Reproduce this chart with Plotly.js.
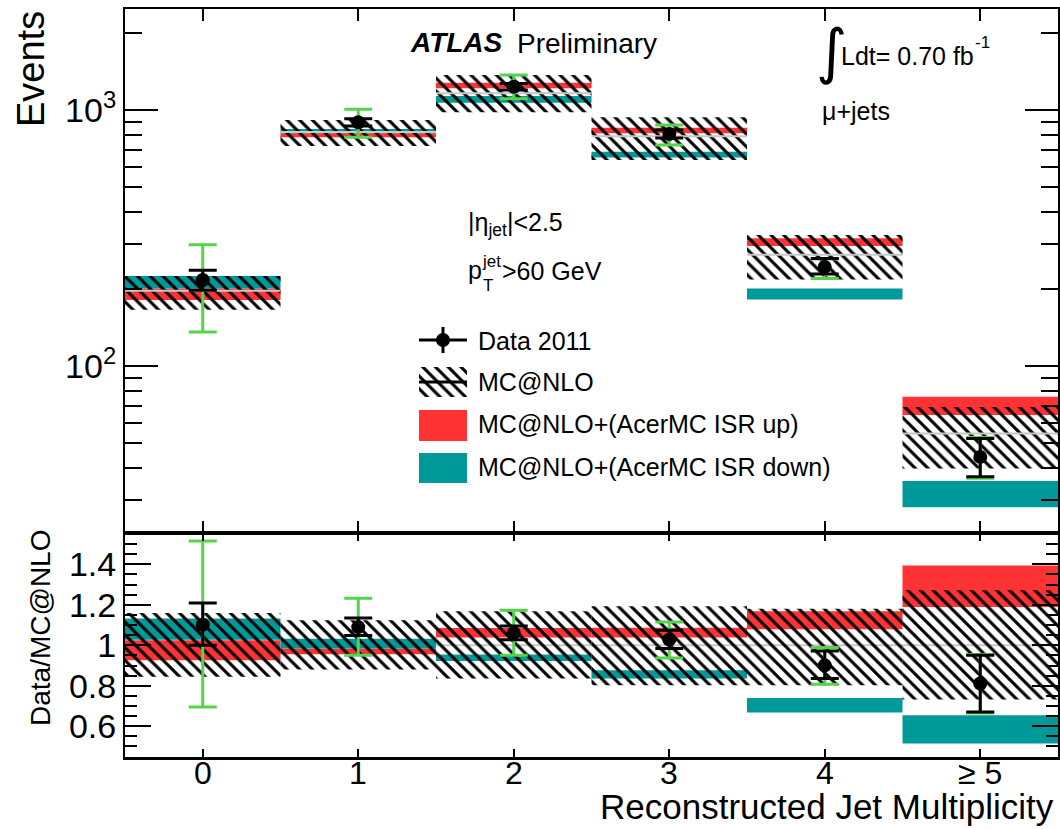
<!DOCTYPE html>
<html>
<head>
<meta charset="utf-8">
<script src="https://cdn.plot.ly/plotly-3.0.1.min.js"></script>
<style>html,body{margin:0;padding:0;background:#fff;}#chart{width:1060px;height:829px;}</style>
</head>
<body>
<div id="chart"></div>
<script>
// ---------------- data ----------------
const jetBins = [0, 1, 2, 3, 4, 5];
const binLabels = ["0", "1", "2", "3", "4", "\u2265 5"];

// upper panel: events
const dataEvents  = [217, 895, 1233, 806, 244, 44.2];
const dataStatLo  = [198, 866, 1198, 778, 229, 37.0];
const dataStatHi  = [237, 925, 1268, 835, 263, 52.2];
const dataTotLo   = [136, 782, 1106, 730, 220, 36.5];
const dataTotHi   = [298, 1006, 1370, 874, 262, 52.6];
const mcnloCentral = [197, 821, 1163, 790, 272, 54.6];
const mcnloLo     = [166, 723, 980, 638, 218, 39.8];
const mcnloHi     = [225, 914, 1370, 937, 325, 69.3];
const isrUpLo     = [181, 782, 1216, 811, 294.5, 64.4];
const isrUpHi     = [201, 811, 1278, 853, 315.6, 75.9];
const isrDownLo   = [201, 811, 1068, 653, 182, 28.1];
const isrDownHi   = [225, 843, 1134, 687, 201, 35.6];

// lower panel: Data / MC@NLO
const ratioData    = [1.102, 1.090, 1.061, 1.028, 0.901, 0.811];
const ratioStatLo  = [1.000, 1.049, 1.028, 0.984, 0.836, 0.671];
const ratioStatHi  = [1.209, 1.135, 1.095, 1.074, 0.972, 0.951];
const ratioTotLo   = [0.695, 0.951, 0.951, 0.937, 0.807, 0.666];
const ratioTotHi   = [1.515, 1.232, 1.173, 1.115, 0.989, 0.954];
const ratioMcLo    = [0.844, 0.880, 0.836, 0.803, 0.803, 0.732];
const ratioMcHi    = [1.160, 1.124, 1.168, 1.193, 1.181, 1.272];
const ratioUpLo    = [0.926, 0.956, 1.038, 1.038, 1.079, 1.189];
const ratioUpHi    = [1.025, 0.984, 1.085, 1.087, 1.168, 1.395];
const ratioDownLo  = [1.028, 0.984, 0.922, 0.836, 0.668, 0.515];
const ratioDownHi  = [1.132, 1.033, 0.954, 0.877, 0.740, 0.654];

const ratioTickVals = [0.6, 0.8, 1.0, 1.2, 1.4];
const ratioTickText = ["0.6", "0.8", "1", "1.2", "1.4"];
const legendLabels = ["Data 2011", "MC@NLO", "MC@NLO+(AcerMC ISR up)", "MC@NLO+(AcerMC ISR down)"];

// ---------------- styles ----------------
const RED = "#ff3333", TEAL = "#009999", GREEN = "#55d44b", GREY = "#c8c8c8";
const FONT = "Liberation Sans, Arial, Helvetica, sans-serif";
const hatch = {color: "rgba(0,0,0,0)", line: {width: 0},
  pattern: {shape: "\\", fgcolor: "#000", bgcolor: "rgba(0,0,0,0)", size: 9, solidity: 0.34, fillmode: "replace"}};

// plot area in pixels
const PL = 125, PR = 1058, PT = 9, PB = 757, SPLIT = 533;
const px = x => (x - PL) / (PR - PL);
const py = y => (PB - y) / (PB - PT);

function band(lo, hi, xa, ya, marker) {
  return {type: "bar", x: jetBins, base: lo, y: hi.map((h, i) => h - lo[i]), width: 1,
    xaxis: xa, yaxis: ya, marker: marker, hoverinfo: "skip", showlegend: false};
}
function solid(c) { return {color: c, line: {width: 0}}; }
function errTrace(y, lo, hi, xa, ya, color, withMarker) {
  return {type: "scatter", mode: "markers", x: jetBins, y: y, xaxis: xa, yaxis: ya,
    marker: withMarker ? {size: 14, color: "#000"} : {size: 1, color: "rgba(0,0,0,0)"},
    error_y: {type: "data", symmetric: false, array: hi.map((h, i) => h - y[i]),
      arrayminus: lo.map((l, i) => y[i] - l), color: color, thickness: 3, width: 14},
    hoverinfo: "skip", showlegend: false};
}
function centerLines(vals, xa, ya) {
  const xs = [], ys = [];
  vals.forEach((v, i) => { xs.push(jetBins[i] - 0.5, jetBins[i] + 0.5, null); ys.push(v, v, null); });
  return {type: "scatter", mode: "lines", x: xs, y: ys, xaxis: xa, yaxis: ya,
    line: {color: GREY, width: 2}, hoverinfo: "skip", showlegend: false};
}

const traces = [
  // upper panel
  centerLines(mcnloCentral, "x2", "y2"),
  band(isrUpLo, isrUpHi, "x2", "y2", solid(RED)),
  band(isrDownLo, isrDownHi, "x2", "y2", solid(TEAL)),
  band(mcnloLo, mcnloHi, "x2", "y2", hatch),
  errTrace(dataEvents, dataTotLo, dataTotHi, "x2", "y2", GREEN, false),
  errTrace(dataEvents, dataStatLo, dataStatHi, "x2", "y2", "#000", true),
  // lower panel
  band(ratioUpLo, ratioUpHi, "x", "y", solid(RED)),
  band(ratioDownLo, ratioDownHi, "x", "y", solid(TEAL)),
  band(ratioMcLo, ratioMcHi, "x", "y", hatch),
  errTrace(ratioData, ratioTotLo, ratioTotHi, "x", "y", GREEN, false),
  errTrace(ratioData, ratioStatLo, ratioStatHi, "x", "y", "#000", true),
  // legend swatches (own axes, pixel units)
  {type: "scatter", mode: "markers", x: [0.5], y: [340], xaxis: "x3", yaxis: "y3",
    marker: {size: 14, color: "#000"},
    error_x: {type: "constant", value: 0.5, color: "#000", thickness: 3, width: 0},
    error_y: {type: "constant", value: 13, color: "#000", thickness: 3, width: 0},
    hoverinfo: "skip", showlegend: false},
  {type: "bar", x: [0.5], base: [367], y: [30], width: 1, xaxis: "x3", yaxis: "y3", marker: hatch, hoverinfo: "skip", showlegend: false},
  {type: "scatter", mode: "lines", x: [0, 1], y: [382, 382], xaxis: "x3", yaxis: "y3", line: {color: "#000", width: 3}, hoverinfo: "skip", showlegend: false},
  {type: "bar", x: [0.5], base: [410], y: [31], width: 1, xaxis: "x3", yaxis: "y3", marker: solid(RED), hoverinfo: "skip", showlegend: false},
  {type: "bar", x: [0.5], base: [453], y: [30], width: 1, xaxis: "x3", yaxis: "y3", marker: solid(TEAL), hoverinfo: "skip", showlegend: false}
];

// minor log ticks
const minorLog = [];
for (let d = 10; d <= 1000; d *= 10) for (let k = 2; k <= 9; k++) if (k * d > 22 && k * d < 2500) minorLog.push(k * d);

const split = (PB - SPLIT) / (PB - PT);
const axBase = {showline: true, linecolor: "#000", linewidth: 2, mirror: "allticks", ticks: "inside",
  tickcolor: "#000", tickwidth: 2, showgrid: false, zeroline: false, fixedrange: true};

const ann = (text, x, y, size, opts) => Object.assign({text: text, x: px(x), y: py(y), xref: "paper", yref: "paper",
  showarrow: false, xanchor: "left", yanchor: "middle", font: {family: FONT, size: size, color: "#000"}}, opts || {});

const annotations = [
  ann("Events", 31, 69, 38, {xanchor: "center", textangle: -90}),
  ann("Data/MC@NLO", 40, 628, 28, {xanchor: "center", textangle: -90}),
  ann("Reconstructed Jet Multiplicity", 1056, 806, 35, {xanchor: "right"}),
  ann("<b><i>ATLAS</i></b>", 408, 43, 28),
  ann("Preliminary", 515, 44, 28),
  ann("\u222B", 831, 51, 60, {xanchor: "center", font: {family: "DejaVu Sans", size: 60, color: "#000"}}),
  ann("Ldt= 0.70 fb", 839, 56, 25),
  ann("-1", 973, 43, 17),
  ann("\u03BC+jets", 820, 111, 25),
  ann("|\u03B7<sub>jet</sub>|<2.5", 466, 224, 25),
  ann("p", 466, 270, 25),
  ann("jet", 480, 261, 17),
  ann("T", 481, 285, 17),
  ann(">60 GeV", 500, 271, 25),
  ann(legendLabels[0], 476, 341, 25),
  ann(legendLabels[1], 476, 382, 25),
  ann(legendLabels[2], 476, 424, 25),
  ann(legendLabels[3], 476, 467, 25)
];
// x tick labels as annotations placed on the data axis
jetBins.forEach((b, i) => annotations.push({text: binLabels[i], x: b, xref: "x", y: py(773), yref: "paper",
  showarrow: false, xanchor: "center", yanchor: "middle", font: {family: FONT, size: 32, color: "#000"}}));

const layout = {
  width: 1060, height: 829, margin: {l: PL, r: 1060 - PR, t: PT, b: 829 - PB},
  paper_bgcolor: "#fff", plot_bgcolor: "#fff", showlegend: false, barmode: "overlay",
  font: {family: FONT, color: "#000"},
  xaxis: Object.assign({}, axBase, {domain: [0, 1], anchor: "y", range: [-0.5, 5.5],
    tickmode: "array", tickvals: jetBins, showticklabels: false, ticklen: 8, linewidth: 2.5}),
  yaxis: Object.assign({}, axBase, {domain: [0, split], anchor: "x", range: [0.448, 1.555],
    tickmode: "array", tickvals: ratioTickVals, ticktext: ratioTickText,
    ticklen: 26, tickfont: {family: FONT, size: 34},
    minor: {tickmode: "linear", tick0: 0, dtick: 0.05, ticklen: 12, tickwidth: 2, tickcolor: "#000", ticks: "inside"}}),
  xaxis2: Object.assign({}, axBase, {domain: [0, 1], anchor: "y2", matches: "x", range: [-0.5, 5.5],
    tickmode: "array", tickvals: jetBins, showticklabels: false, ticklen: 12}),
  yaxis2: Object.assign({}, axBase, {domain: [split, 1], anchor: "x2", type: "log",
    range: [Math.log10(22.3), Math.log10(2480)], tickmode: "array", tickvals: [100, 1000],
    ticktext: ["10<sup>2</sup>", "10<sup>3</sup>"], ticklen: 33, tickfont: {family: FONT, size: 34},
    minor: {tickmode: "array", tickvals: minorLog, ticklen: 17, tickwidth: 2, tickcolor: "#000", ticks: "inside"}}),
  xaxis3: {domain: [px(419), px(467)], anchor: "y3", range: [0, 1], visible: false, fixedrange: true},
  yaxis3: {domain: [py(486), py(325)], anchor: "x3", range: [486, 325], visible: false, fixedrange: true},
  shapes: [{type: "line", xref: "x", yref: "y", x0: -0.5, x1: 5.5, y0: 1, y1: 1, layer: "below",
    line: {color: GREY, width: 2}}],
  annotations: annotations
};

Plotly.newPlot("chart", traces, layout, {staticPlot: true, displayModeBar: false});
</script>
</body>
</html>
